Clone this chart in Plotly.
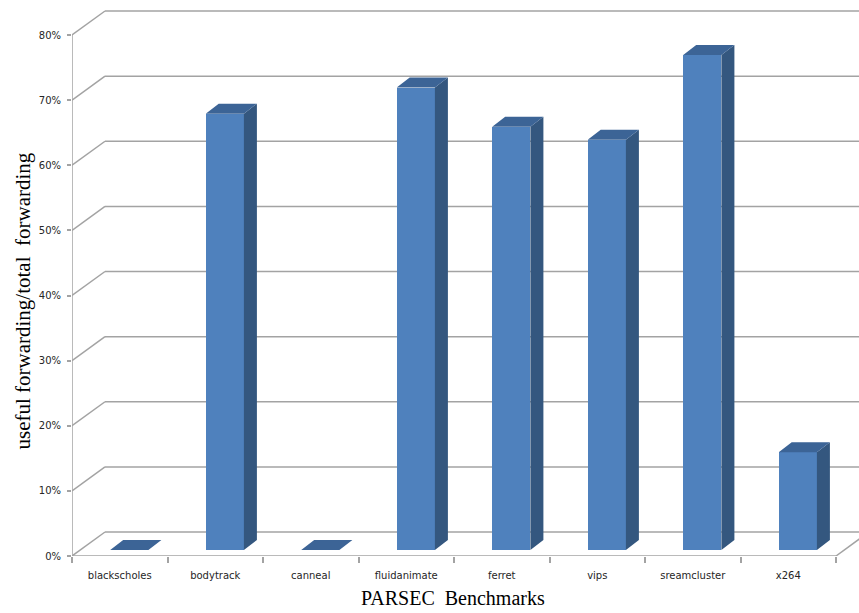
import plotly.graph_objects as go

# Benchmark data
categories = ["blackscholes", "bodytrack", "canneal", "fluidanimate",
              "ferret", "vips", "sreamcluster", "x264"]
ratios = [0.0, 0.67, 0.0, 0.71, 0.65, 0.63, 0.76, 0.15]
y_ticks = [0.0, 0.1, 0.2, 0.3, 0.4, 0.5, 0.6, 0.7, 0.8]

# Canvas / plot-area geometry (pixels)
W, H = 859, 613
ML, MB = 72, 57
PLOT_W, PLOT_H = W - ML, H - MB
PX_PER_CAT = 95.5              # pixels per category slot
PX_PER_UNIT = 651.25           # pixels per 1.0 (=100%)

x_min = -0.5
x_max = x_min + PLOT_W / PX_PER_CAT
y_max = PLOT_H / PX_PER_UNIT

# Oblique depth offsets for the walls and for the bars (in data units)
wall_dx, wall_dy = 33 / PX_PER_CAT, 24 / PX_PER_UNIT
bar_dx, bar_dy = 13 / PX_PER_CAT, 10 / PX_PER_UNIT
bar_shift = 0.10               # bars sit slightly back from the front floor
bar_width = 0.40
bar_base = 6 / PX_PER_UNIT

GRID = "#a3a3a3"
FRONT = "#4f81bd"
SIDE = "#34577f"
TOP = "#3c6496"

n = len(categories)

# Back wall gridlines, floor edges and front axis, drawn beneath the bars
segments = []
for v in y_ticks:
    segments.append((x_min, v, x_min + wall_dx, v + wall_dy))
    segments.append((x_min + wall_dx, v + wall_dy, x_max + 1, v + wall_dy))
segments.append((x_min, 0, n - 0.5, 0))
segments.append((n - 0.5, 0, n - 0.5 + wall_dx, wall_dy))
segments.append((x_min, 0, x_min, y_ticks[-1]))
shapes = [dict(type="line", xref="x", yref="y", x0=a, y0=b, x1=c, y1=d,
               layer="below", line=dict(color=GRID, width=1.5))
          for a, b, c, d in segments]

fig = go.Figure()

# Bar front faces
xs = [i + bar_shift for i in range(n)]
fig.add_trace(go.Bar(x=xs, y=ratios, base=[bar_base] * n, width=bar_width,
                     marker=dict(color=FRONT, line=dict(width=0)),
                     hoverinfo="skip", showlegend=False))

# Bar side and top faces
sx, sy, tx, ty = [], [], [], []
for xc, v in zip(xs, ratios):
    xl, xr = xc - bar_width / 2, xc + bar_width / 2
    b, t = bar_base, bar_base + v
    if v > 0:
        sx += [xr, xr + bar_dx, xr + bar_dx, xr, xr, None]
        sy += [b, b + bar_dy, t + bar_dy, t, b, None]
    tx += [xl, xr, xr + bar_dx, xl + bar_dx, xl, None]
    ty += [t, t, t + bar_dy, t + bar_dy, t, None]
fig.add_trace(go.Scatter(x=sx, y=sy, mode="lines", fill="toself",
                         fillcolor=SIDE, line=dict(width=0, color=SIDE),
                         hoverinfo="skip", showlegend=False))
fig.add_trace(go.Scatter(x=tx, y=ty, mode="lines", fill="toself",
                         fillcolor=TOP, line=dict(width=0, color=TOP),
                         hoverinfo="skip", showlegend=False))

# invisible trace that activates the secondary x axis (boundary ticks)
fig.add_trace(go.Scatter(x=[x_min], y=[0], xaxis="x2", mode="markers",
                         marker=dict(opacity=0), hoverinfo="skip",
                         showlegend=False))

tick_font = dict(family="DejaVu Sans", size=10, color="#262626")
title_font = dict(family="Liberation Serif", size=21, color="black")

fig.update_layout(
    width=W, height=H,
    margin=dict(l=ML, r=0, t=0, b=MB, pad=0),
    paper_bgcolor="white", plot_bgcolor="white",
    bargap=0,
    shapes=shapes,
    xaxis=dict(range=[x_min, x_max], tickvals=list(range(n)),
               ticktext=categories, showgrid=False, zeroline=False,
               showline=False, ticks="outside", ticklen=10,
               tickcolor="rgba(0,0,0,0)", tickfont=tick_font),
    xaxis2=dict(range=[x_min, x_max], overlaying="x", anchor="y",
                side="bottom",
                tickvals=[i - 0.5 for i in range(n + 1)],
                showticklabels=False, showgrid=False, zeroline=False,
                showline=False, ticks="outside", ticklen=6,
                tickcolor=GRID, tickwidth=1.5),
    yaxis=dict(range=[0, y_max], tickvals=y_ticks, tickformat=".0%",
               showgrid=False, zeroline=False, showline=False,
               ticks="outside", ticklen=4, tickcolor=GRID, tickwidth=1.5,
               ticklabelstandoff=4, tickfont=tick_font),
    annotations=[
        dict(text="PARSEC\u00a0 Benchmarks", xref="paper", yref="paper",
             x=(453 - ML) / PLOT_W, y=(PLOT_H - 598) / PLOT_H,
             showarrow=False, xanchor="center", yanchor="middle",
             font=dict(family="Liberation Serif", size=20, color="black")),
        dict(text="useful forwarding/total\u00a0 forwarding", xref="paper",
             yref="paper", x=(22.5 - ML) / PLOT_W, y=(PLOT_H - 301) / PLOT_H,
             showarrow=False, textangle=-90, xanchor="center",
             yanchor="middle", font=title_font),
    ],
)

fig.write_html("out.html")
